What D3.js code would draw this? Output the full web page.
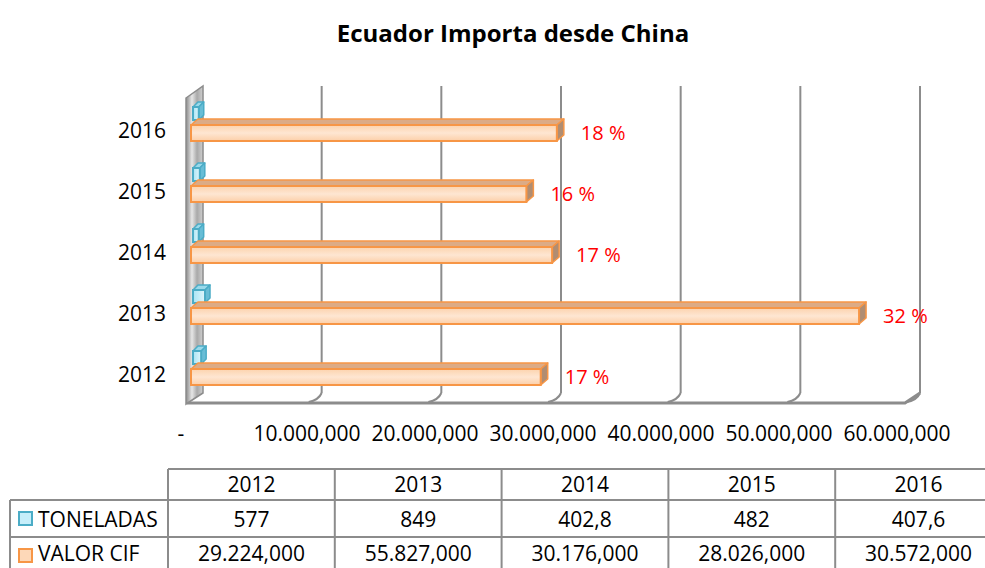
<!DOCTYPE html>
<html>
<head>
<meta charset="utf-8">
<script src="https://cdn.jsdelivr.net/npm/d3@7"></script>
<style>
  body { margin: 0; background: #fff; }
  text { font-family: "Open Sans", sans-serif; }
</style>
</head>
<body>
<div id="chart"></div>
<script>
// data
const years = ["2012", "2013", "2014", "2015", "2016"];
const toneladas = [577, 849, 402.8, 482, 407.6];
const valorCif = [29224000, 55827000, 30176000, 28026000, 30572000];
const shares = [17, 32, 17, 16, 18];
const xTicks = [0, 10e6, 20e6, 30e6, 40e6, 50e6, 60e6];
const seriesNames = ["TONELADAS", "VALOR CIF"];

const W = 985, H = 568;

// "10.000,000" style: dots for thousands, comma for the last group
function fmtMoney(v) {
    if (v === 0) return "-";
    const s = d3.format(",")(v);
    const i = s.lastIndexOf(",");
    return s.slice(0, i).replace(/,/g, ".") + s.slice(i);
}
const fmtTon = v => String(v).replace(".", ",");

const svg = d3.select("#chart").append("svg")
    .attr("width", W)
    .attr("height", H);

const defs = svg.append("defs");

const wallGrad = defs.append("linearGradient").attr("id", "wall")
    .attr("x1", "0").attr("x2", "1").attr("y1", "0").attr("y2", "0");
[["0%", "#8a8a8a"], ["35%", "#e6e6e6"], ["65%", "#a9a9a9"], ["100%", "#cfcfcf"]]
    .forEach(([o, c]) => wallGrad.append("stop").attr("offset", o).attr("stop-color", c));

const orangeGrad = defs.append("linearGradient").attr("id", "orange")
    .attr("x1", "0").attr("x2", "0").attr("y1", "0").attr("y2", "1");
[["0%", "#fcd3ae"], ["50%", "#fee6d2"], ["100%", "#fccfa8"]]
    .forEach(([o, c]) => orangeGrad.append("stop").attr("offset", o).attr("stop-color", c));

const blueGrad = defs.append("linearGradient").attr("id", "blue")
    .attr("x1", "0").attr("x2", "1").attr("y1", "0").attr("y2", "0");
[["0%", "#a9e4f4"], ["100%", "#dff6fc"]]
    .forEach(([o, c]) => blueGrad.append("stop").attr("offset", o).attr("stop-color", c));

// title
svg.append("text")
    .attr("x", 513)
    .attr("y", 42)
    .attr("text-anchor", "middle")
    .attr("font-size", 24)
    .attr("font-weight", "bold")
    .attr("fill", "#000")
    .text("Ecuador Importa desde China");

// 3D frame: back wall scale and front (floor edge) offset
const gridTop = 86, backBottom = 393;
const depthX = -15, depthY = 10;
const xBack = d3.scaleLinear().domain([0, 60e6]).range([202, 920]);
const xFront = d3.scaleLinear().domain([0, 60e6]).range([191, 909]);
const xLabel = d3.scaleLinear().domain([0, 60e6]).range([189, 897]);

const frame = svg.append("g");

// back wall gridlines
frame.selectAll("line.grid")
    .data(xTicks.slice(1))
    .enter().append("line")
    .attr("class", "grid")
    .attr("x1", d => xBack(d))
    .attr("x2", d => xBack(d))
    .attr("y1", gridTop)
    .attr("y2", backBottom)
    .attr("stroke", "#8c8c8c")
    .attr("stroke-width", 2);

// floor gridlines running to the front edge
frame.selectAll("path.floor")
    .data(xTicks.slice(1))
    .enter().append("path")
    .attr("class", "floor")
    .attr("d", d => `M${xBack(d)},${backBottom} Q${xBack(d) - 3},${backBottom + 7} ${xBack(d) + depthX + 2},${backBottom + depthY - 1}`)
    .attr("fill", "none")
    .attr("stroke", "#8c8c8c")
    .attr("stroke-width", 2);

// floor front edge
frame.append("path")
    .attr("d", `M${xBack(0) + depthX},${backBottom + depthY} L${xBack(60e6) + depthX},${backBottom + depthY} L${xBack(60e6)},${backBottom}`)
    .attr("fill", "none")
    .attr("stroke", "#8c8c8c")
    .attr("stroke-width", 3);

// left wall
frame.append("path")
    .attr("d", `M${xBack(0) + depthX - 1},${gridTop + 12} L${xBack(0) + 1},${gridTop} L${xBack(0) + 1},${backBottom} L${xBack(0) + depthX - 1},${backBottom + depthY + 1} Z`)
    .attr("fill", "url(#wall)")
    .attr("stroke", "#8c8c8c")
    .attr("stroke-width", 1.5);

// category bands, 2016 on top
const yBand = d3.scaleBand()
    .domain(years.slice().reverse())
    .range([98, 403]);

const tonScale = d3.scaleLinear().domain([0, d3.max(toneladas)]).range([0, 12]);

const rows = years.map((y, i) => ({year: y, ton: toneladas[i], cif: valorCif[i], share: shares[i]}));

const bars = svg.append("g").selectAll("g.cat")
    .data(rows)
    .enter().append("g")
    .attr("class", "cat");

// box helper: front face plus top and right faces
function box(g, x0, x1, yT, yB, dx, dy, front, top, side, stroke) {
    g.append("path")
        .attr("d", `M${x0},${yT} L${x1},${yT} L${x1 + dx},${yT - dy} L${x0 + dx},${yT - dy} Z`)
        .attr("fill", top).attr("stroke", stroke).attr("stroke-width", 1.5)
        .attr("stroke-linejoin", "round");
    g.append("path")
        .attr("d", `M${x1},${yT} L${x1 + dx},${yT - dy} L${x1 + dx},${yB - dy} L${x1},${yB} Z`)
        .attr("fill", side).attr("stroke", stroke).attr("stroke-width", 1.5)
        .attr("stroke-linejoin", "round");
    g.append("rect")
        .attr("x", x0).attr("y", yT)
        .attr("width", x1 - x0).attr("height", yB - yT)
        .attr("fill", front).attr("stroke", stroke).attr("stroke-width", 2);
}

bars.each(function(d) {
    const g = d3.select(this);
    const b = yBand(d.year);
    // TONELADAS
    box(g, 193, 193 + tonScale(d.ton), b + 9, b + 22, 5, 5,
        "url(#blue)", "#9bd9ea", "#68bdd6", "#4bacc6");
    // VALOR CIF
    box(g, xFront(0), xFront(d.cif), b + 27, b + 43, 7, 6,
        "url(#orange)", "#dcab86", "#b08d72", "#f79646");
});

// percentage labels
svg.append("g").selectAll("text")
    .data(rows)
    .enter().append("text")
    .attr("x", d => xFront(d.cif) + 24)
    .attr("y", d => yBand(d.year) + 42)
    .attr("font-size", 20)
    .attr("fill", "#ff0000")
    .text(d => d.share + " %");

// category labels
svg.append("g").selectAll("text")
    .data(years)
    .enter().append("text")
    .attr("x", 166)
    .attr("y", d => yBand(d) + 40)
    .attr("text-anchor", "end")
    .attr("font-size", 21)
    .attr("fill", "#000")
    .text(d => d);

// value axis labels
svg.append("g").selectAll("text")
    .data(xTicks)
    .enter().append("text")
    .attr("x", d => d === 0 ? xLabel(d) - 8 : xLabel(d))
    .attr("y", 441)
    .attr("text-anchor", "middle")
    .attr("font-size", 21)
    .attr("fill", "#000")
    .text(fmtMoney);

// data table
const colX = d3.scaleBand().domain(years).range([168, 1002]);
const rowY = [469, 500, 537, 574];
const tbl = svg.append("g").attr("stroke", "#8c8c8c").attr("stroke-width", 2);

tbl.append("line").attr("x1", 168).attr("x2", W).attr("y1", rowY[0]).attr("y2", rowY[0]);
rowY.slice(1).forEach(y =>
    tbl.append("line").attr("x1", 10).attr("x2", W).attr("y1", y).attr("y2", y));
tbl.append("line").attr("x1", 10).attr("x2", 10).attr("y1", rowY[1]).attr("y2", H);
tbl.selectAll("line.col")
    .data(years)
    .enter().append("line")
    .attr("class", "col")
    .attr("x1", d => colX(d)).attr("x2", d => colX(d))
    .attr("y1", rowY[0]).attr("y2", H);

const cellText = svg.append("g")
    .attr("font-size", 21)
    .attr("fill", "#000")
    .attr("text-anchor", "middle");

cellText.selectAll("text.hdr")
    .data(years)
    .enter().append("text")
    .attr("class", "hdr")
    .attr("x", d => colX(d) + colX.bandwidth() / 2)
    .attr("y", 492)
    .text(d => d);

cellText.selectAll("text.ton")
    .data(rows)
    .enter().append("text")
    .attr("class", "ton")
    .attr("x", d => colX(d.year) + colX.bandwidth() / 2)
    .attr("y", 527)
    .text(d => fmtTon(d.ton));

cellText.selectAll("text.cif")
    .data(rows)
    .enter().append("text")
    .attr("class", "cif")
    .attr("x", d => colX(d.year) + colX.bandwidth() / 2)
    .attr("y", 561)
    .text(d => fmtMoney(d.cif));

// legend keys inside the table
const legendStyle = [
    {fill: "#c6eefa", stroke: "#4bacc6"},
    {fill: "#fdd8b8", stroke: "#f79646"}
];
const leg = svg.append("g").selectAll("g")
    .data(seriesNames)
    .enter().append("g")
    .attr("transform", (d, i) => `translate(0,${rowY[i + 1]})`);
leg.append("rect")
    .attr("x", 19).attr("y", 12)
    .attr("width", 13).attr("height", 13)
    .attr("fill", (d, i) => legendStyle[i].fill)
    .attr("stroke", (d, i) => legendStyle[i].stroke)
    .attr("stroke-width", 2);
leg.append("text")
    .attr("x", 38)
    .attr("y", (d, i) => i === 0 ? 27 : 24)
    .attr("font-size", 21)
    .attr("fill", "#000")
    .text(d => d);
</script>
</body>
</html>
